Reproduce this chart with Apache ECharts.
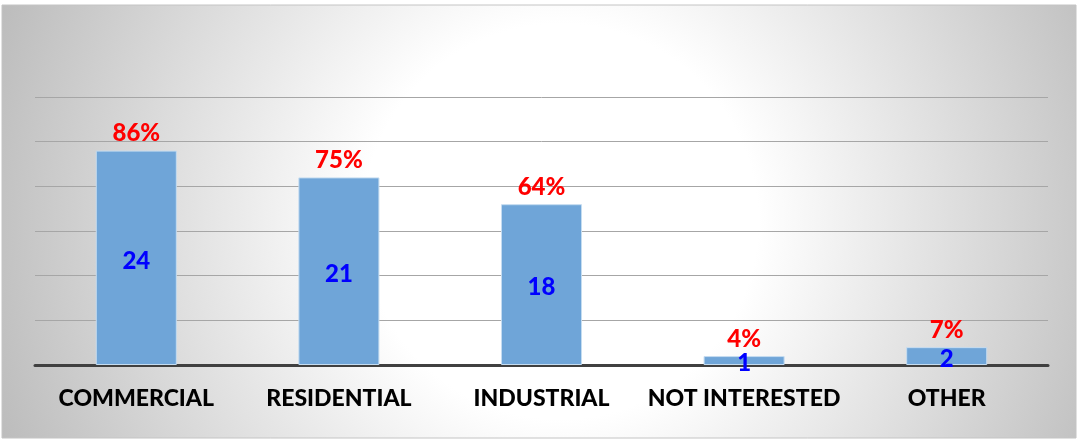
<!DOCTYPE html>
<html>
<head>
<meta charset="utf-8">
<title>Interest by sector</title>
<script src="https://cdn.jsdelivr.net/npm/echarts@6/dist/echarts.min.js"></script>
<style>
  html, body { margin: 0; padding: 0; background: #fff; }
</style>
</head>
<body>
<div id="main" style="width:1080px; height:440px;"></div>
<script type="text/javascript">
var categories = ['COMMERCIAL', 'RESIDENTIAL', 'INDUSTRIAL', 'NOT INTERESTED', 'OTHER']
var counts = [24, 21, 18, 1, 2]
var percents = ['86%', '75%', '64%', '4%', '7%']

var labelFont = 'Lato, "Open Sans", sans-serif'

var myChart = echarts.init(document.querySelector('#main'))
// 背景：中间偏白的径向渐变
var bgFill = new echarts.graphic.RadialGradient(0.52, 0.5, 1.38, [
    {offset: 0, color: '#ffffff'},
    {offset: 0.33, color: '#ffffff'},
    {offset: 1, color: '#bcbcbc'}
])
var option = {
    animation: false,
    graphic: [{
        type: 'rect',
        z: -10,
        shape: {x: 2, y: 5, width: 1074, height: 433},
        style: {
            fill: bgFill,
            stroke: '#c4c4c4',
            lineWidth: 1
        }
    }],
    grid: {left: 35, right: 32, top: 97, bottom: 75},
    xAxis: {
        type: 'category',
        data: categories,
        axisTick: {show: false},
        axisLine: {lineStyle: {color: '#404040', width: 3}},
        axisLabel: {
            interval: 0,
            color: '#000',
            fontWeight: 900,
            fontSize: 23,
            fontFamily: labelFont,
            margin: 22
        }
    },
    yAxis: {
        type: 'value',
        min: 0,
        max: 30,
        interval: 5,
        axisLabel: {show: false},
        axisLine: {show: false},
        axisTick: {show: false},
        splitLine: {lineStyle: {color: '#a6a6a6', width: 1}}
    },
    series: [
        {
            name: 'count',
            type: 'bar',
            data: counts,
            barWidth: '40%',
            itemStyle: {color: '#6fa5d8', borderColor: '#c5dcf0', borderWidth: 1},
            label: {
                show: true,
                position: 'inside',
                color: '#0000ff',
                fontWeight: 900,
                fontSize: 24,
                fontFamily: labelFont,
                offset: [0, 3]
            }
        },
        {
            name: 'percent',
            type: 'bar',
            data: counts,
            barWidth: '40%',
            barGap: '-100%',
            itemStyle: {color: 'rgba(0,0,0,0)'},
            label: {
                show: true,
                position: 'top',
                distance: 5,
                color: '#ff0000',
                fontWeight: 900,
                fontSize: 24,
                fontFamily: labelFont,
                formatter: function(p) {
                    return percents[p.dataIndex]
                }
            }
        }
    ]
}
myChart.setOption(option)
</script>
</body>
</html>
